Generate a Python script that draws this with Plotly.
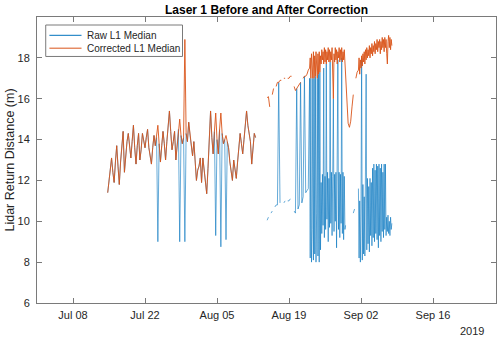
import pandas as pd
import plotly.graph_objects as go

# Jul 14 18:00 -> Aug 12 12:00, 6-hourly
corr_jul = [11.4, 12.1, 12.7, 13.1, 12.4, 11.9, 12.9, 13.7, 12.7, 11.8,
            12.9, 13.8, 14.4, 12.4, 13.2, 13.9, 14.3, 13.5, 13.1, 13.9,
            14.7, 13.6, 12.8, 13.7, 14.3, 13.0, 13.5, 14.3, 13.9, 13.6,
            14.1, 14.5, 13.6, 13.1, 12.8, 13.6, 14.2, 13.7, 14.1, 14.7,
            13.8, 12.9, 13.7, 14.4, 13.8, 13.0, 13.9, 14.8, 15.4, 14.4,
            13.5, 13.9, 14.4, 13.0, 13.6, 14.5, 15.0, 14.2, 13.8, 14.1,
            18.9, 14.3, 13.9, 14.85, 14.2, 13.5, 13.2, 13.9, 12.8, 12.0,
            12.5, 12.7, 13.1, 11.9, 13.1, 12.6, 12.0, 11.35, 12.6, 14.2,
            15.4, 14.1, 13.3, 14.4, 15.3, 14.0, 13.3, 14.5, 15.3, 14.3,
            13.8, 14.0, 14.2, 13.9, 13.6, 12.9, 12.3, 12.0, 13.0, 12.6,
            12.1, 12.9, 13.6, 14.3, 13.8, 13.3, 14.0, 14.8, 15.4, 14.7,
            14.2, 13.9, 12.8, 13.5, 14.3, 14.1]
raw_jul = [11.4, 12.1, 12.7, 13.1, 12.4, 11.9, 12.9, 13.7, 12.7, 11.8,
           12.9, 13.8, 14.4, 12.4, 13.2, 13.9, 14.3, 13.5, 13.1, 13.9,
           14.7, 13.6, 12.8, 13.7, 14.3, 13.0, 13.5, 14.3, 13.9, 13.6,
           14.1, 14.5, 13.6, 13.1, 12.8, 13.6, 14.2, 13.7, 14.1, 9.0,
           13.8, 12.9, 13.7, 14.4, 13.8, 13.0, 13.9, 14.8, 15.4, 14.4,
           13.5, 13.9, 14.4, 13.0, 13.6, 14.5, 9.0, 14.2, 13.8, 14.1,
           9.0, 14.3, 13.9, 14.85, 14.2, 13.5, 13.2, 13.9, 12.8, 12.0,
           12.5, 12.7, 13.1, 11.9, 13.1, 12.6, 12.0, 11.35, 12.6, 14.2,
           15.4, 14.1, 13.3, 14.4, 9.3, 14.0, 13.3, 14.5, 8.75, 14.3,
           13.8, 14.0, 9.1, 13.9, 13.6, 12.9, 12.3, 12.0, 13.0, 12.6,
           12.1, 12.9, 13.6, 14.3, 13.8, 13.3, 14.0, 14.8, 15.4, 14.7,
           14.2, 13.9, 12.8, 13.5, 14.3, 14.1]

# Aug 14 18:00 -> Aug 22 18:00, 6-hourly (patchy)
corr_aug_a = [16.05, 16.1, 15.6, None, 16.2, 16.5, None, 16.6, 16.8, 16.8,
              16.9, 16.9, None, 17.0, 17.0, None, 17.0, 17.0, 17.1, 17.1,
              None, 16.6, 16.4, 16.5, 16.6, 16.7, 16.8, None, 17.0, 17.1,
              17.1, 17.2, 17.4]
raw_aug_a = [10.05, 10.2, None, 10.4, 10.5, None, 10.7, 10.8, 10.8, 16.8,
             10.9, None, None, 10.9, 11.0, None, 11.0, 11.0, 11.1, None,
             None, 10.5, 10.4, 16.5, 10.6, 10.8, 16.8, 10.9, 11.2, 17.1,
             11.4, 11.5, 11.6]

# Aug 23 00:00 -> Aug 30 00:00, 3-hourly
corr_aug_b = [17.5, 18.0, 17.0, 18.2, 17.4, 17.0, 18.3, 17.0, 18.1, 17.1,
              18.3, 17.6, 17.0, 18.2, 17.2, 18.3, 17.3, 18.1, 17.7, 18.4,
              17.9, 18.3, 17.7, 18.5, 17.8, 18.4, 17.7, 18.3, 17.9, 18.5,
              17.8, 18.4, 17.8, 18.3, 17.9, 18.5, 17.7, 16.0, 18.2, 17.8,
              18.5, 17.9, 18.4, 17.7, 18.3, 18.0, 18.5, 17.8, 18.4, 17.9,
              18.5, 17.8, 18.3, 17.9, 18.4, 17.7, 17.6]
raw_aug_b = [17.0, 8.2, 17.0, 8.0, 9.6, 17.0, 8.1, 17.0, 8.4, 17.1,
             8.0, 10.4, 17.0, 8.3, 17.2, 8.0, 17.3, 8.6, 11.9, 9.4,
             12.3, 9.8, 17.5, 9.2, 12.2, 9.6, 17.7, 10.1, 12.4, 9.0,
             12.1, 9.7, 17.8, 9.9, 12.4, 9.3, 12.2, 16.0, 9.5, 12.3,
             10.0, 12.4, 8.7, 12.0, 17.9, 9.6, 12.4, 9.2, 12.3, 9.9,
             18.0, 9.4, 12.4, 9.1, 12.2, 9.6, 9.8]

# Aug 30 06:00 -> Sep 01 06:00, 6-hourly
corr_dip = [15.6, 14.8, 14.6, 14.9, 15.6, 16.2, None, 17.0, 17.3]
raw_dip = [None, None, None, None, None, 10.4, 10.6, None, None]

# Sep 01 12:00 -> Sep 08 00:00, 3-hourly
corr_sep = [17.4, 18.0, 17.2, 17.9, 17.5, 18.1, 17.6, 18.2, 17.8, 18.3,
            17.7, 18.4, 17.9, 18.5, 18.0, 18.4, 18.1, 18.6, 18.0, 18.5,
            18.2, 18.7, 18.1, 18.6, 18.3, 18.8, 18.2, 18.7, 18.4, 18.9,
            18.3, 18.8, 18.5, 18.9, 18.2, 18.8, 18.4, 19.0, 18.5, 18.9,
            18.3, 19.0, 18.5, 18.9, 18.2, 17.7, 18.8, 19.1, 18.5, 19.0,
            18.4, 18.9, 18.6]
raw_sep = [11.6, 8.2, 11.0, 8.0, 10.6, 18.0, 8.1, 11.8, 8.4, 11.2,
           8.3, 12.0, 17.2, 8.6, 12.1, 8.9, 11.7, 8.5, 12.1, 9.3,
           11.9, 8.8, 12.6, 9.2, 12.8, 9.0, 12.5, 9.4, 12.8, 9.1,
           12.7, 8.7, 12.8, 9.3, 12.6, 9.0, 12.8, 9.5, 12.4, 9.2,
           12.8, 9.6, 12.8, 9.3, 10.2, 9.5, 10.3, 9.4, 10.0, 9.3,
           10.2, 9.6, 9.9]

tick_dates = ["2019-07-08", "2019-07-22", "2019-08-05", "2019-08-19",
              "2019-09-02", "2019-09-16"]
y_ticks = [6, 8, 10, 12, 14, 16, 18]

times = (list(pd.date_range("2019-07-14 18:00", periods=len(corr_jul), freq="6h"))
         + [pd.Timestamp("2019-08-13 12:00")]
         + list(pd.date_range("2019-08-14 18:00", periods=len(corr_aug_a), freq="6h"))
         + list(pd.date_range("2019-08-23 00:00", periods=len(corr_aug_b), freq="3h"))
         + list(pd.date_range("2019-08-30 06:00", periods=len(corr_dip), freq="6h"))
         + list(pd.date_range("2019-09-01 12:00", periods=len(corr_sep), freq="3h")))
raw_l1 = raw_jul + [None] + raw_aug_a + raw_aug_b + raw_dip + raw_sep
corr_l1 = corr_jul + [None] + corr_aug_a + corr_aug_b + corr_dip + corr_sep

font = "Liberation Sans, Arial, sans-serif"
axis_col = "#7a7a7a"
blue = "#0072BD"
orange = "#D95319"

fig = go.Figure()
fig.add_trace(go.Scatter(x=times, y=raw_l1, mode="lines", name="Raw L1 Median",
                         line=dict(color=blue, width=0.6)))
fig.add_trace(go.Scatter(x=times, y=corr_l1, mode="lines", name="Corrected L1 Median",
                         line=dict(color=orange, width=0.9)))

fig.update_layout(
    width=500, height=339,
    margin=dict(l=37, r=4, t=17, b=36),
    paper_bgcolor="white", plot_bgcolor="white",
    font=dict(family=font, size=11, color="#262626"),
    title=dict(text="<b>Laser 1 Before and After Correction</b>",
               x=0.5, xref="paper", y=1 - 9.5 / 339, yref="container",
               xanchor="center", yanchor="middle",
               font=dict(size=12, color="black")),
    showlegend=False,
)
fig.update_xaxes(
    range=["2019-07-01", "2019-09-28 06:00"],
    tickvals=tick_dates, tickformat="%b %d",
    ticks="inside", ticklen=5, tickcolor=axis_col,
    showline=True, linecolor=axis_col, linewidth=1, mirror="ticks",
    showgrid=False, zeroline=False, ticklabelstandoff=2,
)
fig.update_yaxes(
    range=[6, 20], tickvals=y_ticks,
    ticks="inside", ticklen=5, tickcolor=axis_col,
    showline=True, linecolor=axis_col, linewidth=1, mirror="ticks",
    showgrid=False, zeroline=False, ticklabelstandoff=4,
    title=dict(text="Lidar Return Distance (m)", standoff=0,
               font=dict(size=12.5, color="#262626")),
)

# legend box drawn by hand (MATLAB-style compact rows)
fig.add_shape(type="rect", xref="paper", yref="paper",
              x0=0.019, x1=0.317, y0=0.862, y1=0.972,
              line=dict(color=axis_col, width=1), fillcolor="white", layer="above")
for name, col, yy in [("Raw L1 Median", blue, 0.936), ("Corrected L1 Median", orange, 0.891)]:
    fig.add_shape(type="line", xref="paper", yref="paper",
                  x0=0.027, x1=0.097, y0=yy, y1=yy,
                  line=dict(color=col, width=1), layer="above")
    fig.add_annotation(text=name, x=0.1046, y=yy, xref="paper", yref="paper",
                       xanchor="left", yanchor="middle", showarrow=False,
                       font=dict(size=10, color="#262626"))

fig.add_annotation(text="2019", x=0.978, y=-0.098, xref="paper", yref="paper",
                   xanchor="right", yanchor="middle", showarrow=False,
                   font=dict(size=11, color="#262626"))

fig.write_html("out.html", config={"displayModeBar": False},
               post_script="document.body.style.margin='0px';")
